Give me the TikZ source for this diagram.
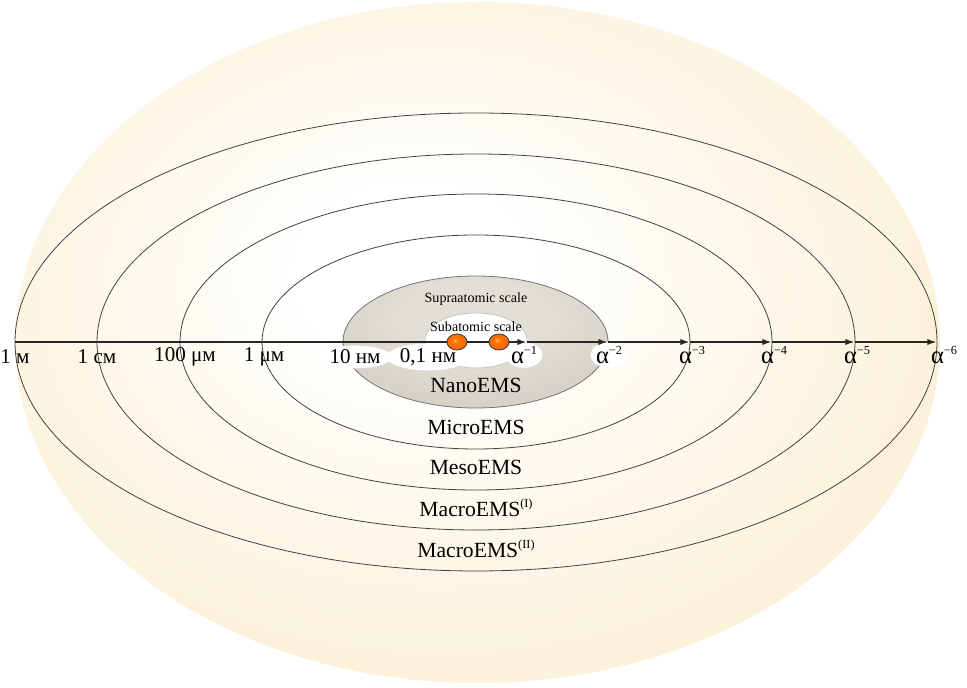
\documentclass[tikz,border=0pt]{standalone}
\usepackage{fontspec}
\setmainfont{Liberation Serif}
\usepackage{tikz}
\usetikzlibrary{arrows.meta,shapes.geometric,positioning,calc}

\definecolor{beigeC}{RGB}{252,241,217}
\definecolor{grayL}{RGB}{226,223,214}
\definecolor{grayD}{RGB}{196,191,178}
\pgfdeclareradialshading{paleglow}{\pgfpoint{-4bp}{6bp}}{color(0bp)=(white); color(6bp)=(white); color(28bp)=(beigeC); color(50bp)=(beigeC)}
\pgfdeclareradialshading{nanoglow}{\pgfpoint{0bp}{12bp}}{color(0bp)=(grayL); color(14bp)=(grayL); color(50bp)=(grayD)}
\pgfdeclareradialshading{orangeball}{\pgfpoint{-6bp}{6bp}}{color(0bp)=(white!40!orange); color(8bp)=(orange!90!red); color(30bp)=(orange!80!red); color(50bp)=(orange!60!red!80!black)}

\begin{document}
\begin{tikzpicture}[x=0.02cm, y=-0.02cm,
    ring/.style={draw=black!75, line width=0.45pt},
    tick/.style={font=\fontsize{12}{14}\selectfont, inner sep=1pt},
    tickw/.style={tick, ellipse, fill=white, inner sep=0.5pt},
    alab/.style={font=\fontsize{14}{15}\selectfont, inner sep=1pt},
    alabw/.style={alab, ellipse, fill=white, inner sep=0pt},
    ems/.style={font=\fontsize{12.3}{14}\selectfont},
    scl/.style={font=\fontsize{8}{9}\selectfont},
    axis/.style={line width=1.3pt, black!85},
    arr/.style={axis, -{Latex[length=5.5pt, width=3.6pt]}},
    ball/.style={ellipse, draw=black!75, line width=0.5pt, shading=orangeball, minimum width=0.4cm, minimum height=0.32cm, inner sep=0pt}
]
\newcommand{\sscr}[1]{\raisebox{5.5pt}{\fontsize{7}{8}\selectfont #1}}
\useasboundingbox (0,0) rectangle (967,688);

\shade[shading=paleglow] (477.5,342.5) ellipse [x radius=462.5, y radius=340.5];

\draw[ring] (476,342) ellipse [x radius=461, y radius=229];
\draw[ring] (476,342) ellipse [x radius=379, y radius=188];
\draw[ring] (476,342) ellipse [x radius=296, y radius=148];
\draw[ring] (476,342) ellipse [x radius=214, y radius=107];
\shade[shading=nanoglow, draw=black!55, line width=0.45pt] (475.5,342) ellipse [x radius=132.5, y radius=66];
\fill[white] (476,340.5) ellipse [x radius=51, y radius=27.5];
\draw[gray!60, line width=0.3pt] (476,340.5) ellipse [x radius=51, y radius=27.5];

\node[scl] (supra) at (476,299) {Supraatomic scale};
\node[scl] (sub) at (476,327) {Subatomic scale};
\node[ems] (nano) at (476,385) {NanoEMS};
\node[ems] (micro) at (476,427) {MicroEMS};
\node[ems] (meso) at (476,467) {MesoEMS};
\node[ems] (macroI) at (476,508) {MacroEMS\sscr{(I)}};
\node[ems] (macroII) at (476,549) {MacroEMS\sscr{(II)}};

\coordinate (m1) at (15,342);
\coordinate (cm1) at (97,342);
\coordinate (um100) at (180,342);
\coordinate (um1) at (262,342);
\coordinate (nm10) at (343,342);
\coordinate (nm01) at (425,342);
\coordinate (a1) at (527,342);
\coordinate (a2) at (608,342);
\coordinate (a3) at (690,342);
\coordinate (a4) at (772,342);
\coordinate (a5) at (855,342);
\coordinate (a6) at (937,342);

\node[tick] (lm1) at (15,357) {1 м};
\node[tick] (lcm1) at (97,357) {1 см};
\node[tick] (lum100) at (185,357) {100 μм};
\node[tick] (lum1) at (264,357) {1 μм};
\node[tickw] (lnm10) at (355,357) {10 нм};
\node[tickw] (lnm01) at (428,357) {0,1 нм};
\node[alabw] (la1) at (524,355) {α\sscr{−1}};
\node[alabw] (la2) at (609,355) {α\sscr{−2}};
\node[alab] (la3) at (692,355) {α\sscr{−3}};
\node[alab] (la4) at (774,355) {α\sscr{−4}};
\node[alab] (la5) at (857,355) {α\sscr{−5}};
\node[alab] (la6) at (944,355) {α\sscr{−6}};

\node[ball] (b1) at (457,342) {};
\node[ball] (b2) at (499,342) {};

\draw[axis] (m1) -- (b1);
\draw[axis] (b1) -- (b2);
\draw[arr] (b2) -- (a1);
\draw[arr] (a1) -- (a2);
\draw[arr] (a2) -- (a3);
\draw[arr] (a3) -- (a4);
\draw[arr] (a4) -- (a5);
\draw[arr] (a5) -- (a6);
\end{tikzpicture}
\end{document}
